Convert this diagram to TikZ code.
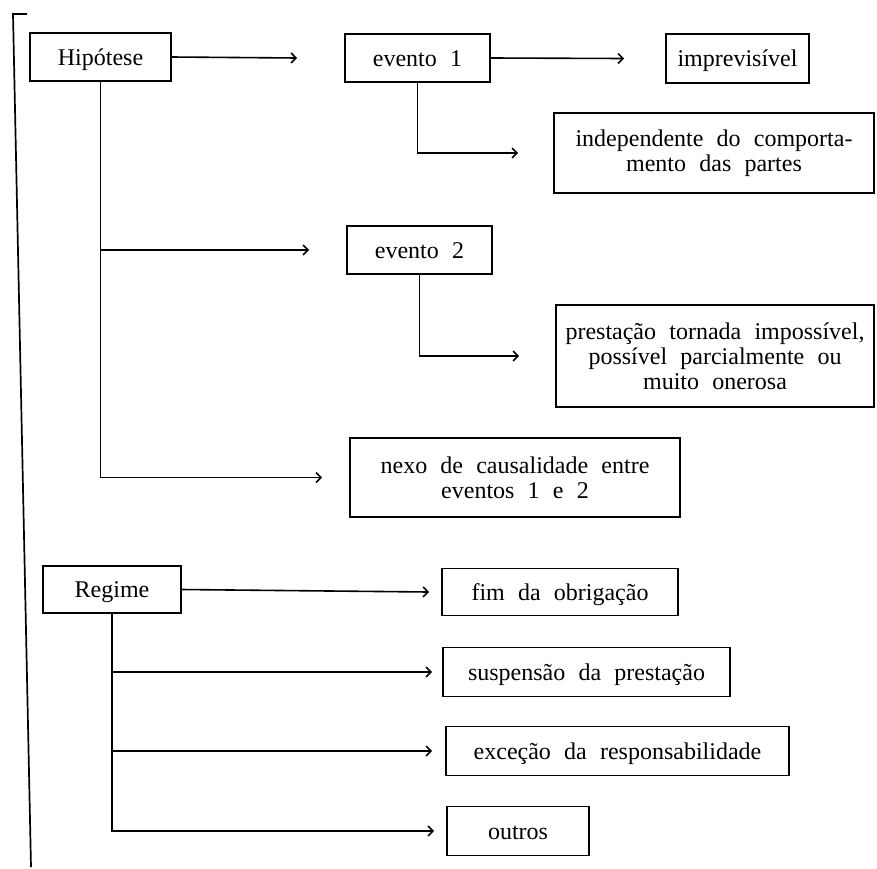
\documentclass[tikz,border=0pt]{standalone}
\usepackage{fontspec}
\setmainfont{Liberation Serif}
\usepackage{tikz}
\usetikzlibrary{arrows.meta}
\newcommand\boxfont{\fontsize{24}{25}\selectfont\spaceskip=0.55em\relax}

\begin{document}
\begin{tikzpicture}[x=1pt,y=-1pt,
    box/.style={draw,line width=1.6pt,inner sep=0pt,font=\boxfont,
                text height=18pt,text depth=2pt},
    textbox/.style={box,align=center,text height=,text depth=},
    arr/.style={line width=1.6pt,-{Straight Barb[length=5pt,width=10pt]}}]
  \useasboundingbox (0,0) rectangle (877,868);

  % bracket round the whole scheme
  \draw[line width=1.7pt] (27,14) -- (13,14) -- (31,867);

  % Hipotese
  \node[box,minimum width=141pt,minimum height=48pt] (hip) at (100.5,57) {Hipótese};
  \node[box,minimum width=145pt,minimum height=48pt] (ev1) at (417.5,58) {evento 1};
  \node[box,minimum width=143pt,minimum height=49pt] (imp) at (737.5,58.5) {imprevisível};
  \node[textbox,minimum width=320pt,minimum height=80pt] (ind) at (714,153)
    {independente do comporta-\\mento das partes};
  \node[box,minimum width=145pt,minimum height=48pt] (ev2) at (419.5,250) {evento 2};
  \node[textbox,minimum width=318pt,minimum height=102pt] (pre) at (715,356)
    {prestação tornada impossível,\\possível parcialmente ou\\muito onerosa};
  \node[textbox,minimum width=330pt,minimum height=79pt] (nexo) at (515,477.5)
    {nexo de causalidade entre\\eventos 1 e 2};

  \draw[arr] (hip.east) -- ([xshift=-47pt]ev1.west);
  \draw[arr] (ev1.east) -- ([xshift=-41pt]imp.west);
  \draw[arr] (ev1.south) |- ([xshift=-35pt]ind.west);
  \draw[arr] (hip.south) |- ([xshift=-27pt]nexo.west);
  \draw[arr] (hip.south |- ev2.west) -- ([xshift=-37pt]ev2.west);
  \draw[arr] (ev2.south) |- ([xshift=-36pt]pre.west);

  % Regime
  \node[box,minimum width=138pt,minimum height=47pt] (reg) at (112,589.5) {Regime};
  \node[box,minimum width=236pt,minimum height=47pt] (fim) at (560,592) {fim da obrigação};
  \node[box,minimum width=287pt,minimum height=49pt] (sus) at (586.5,672) {suspensão da prestação};
  \node[box,minimum width=343pt,minimum height=49pt] (exc) at (617.5,751) {exceção da responsabilidade};
  \node[box,minimum width=142pt,minimum height=49pt] (out) at (518,831) {outros};

  \draw[arr] (reg.east) -- ([xshift=-12pt]fim.west);
  \draw[arr] (reg.south) |- ([xshift=-12pt]out.west);
  \draw[arr] (reg.south |- sus.west) -- ([xshift=-10pt]sus.west);
  \draw[arr] (reg.south |- exc.west) -- ([xshift=-13pt]exc.west);
\end{tikzpicture}
\end{document}
